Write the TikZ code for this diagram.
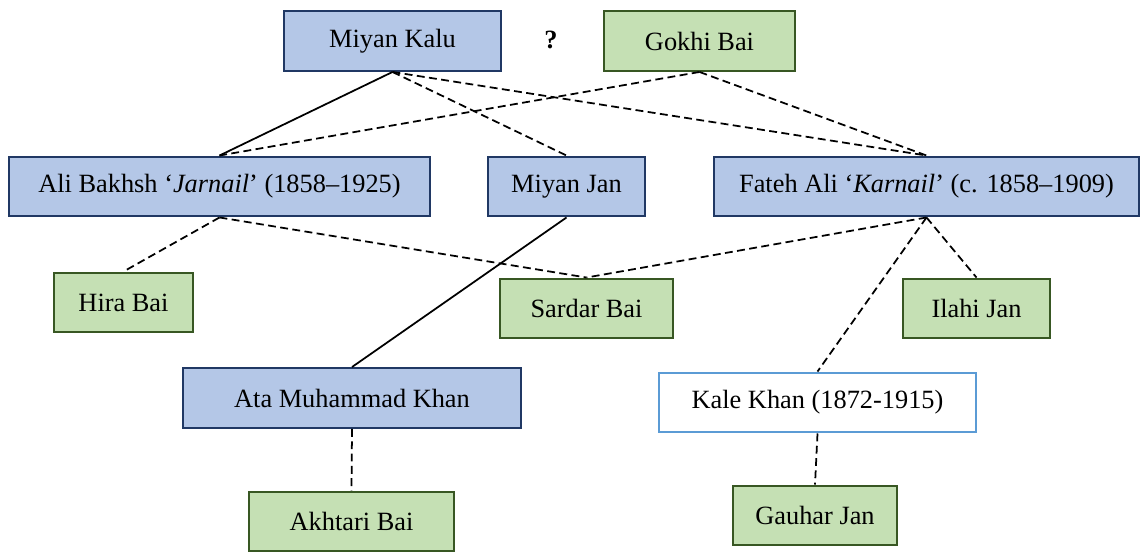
\documentclass[tikz,border=0pt]{standalone}
\usepackage{fontspec}
\setmainfont{Liberation Serif}
\usepackage{xcolor}
\usetikzlibrary{positioning}

\definecolor{bluefill}{HTML}{B4C7E7}
\definecolor{blueline}{HTML}{203864}
\definecolor{greenfill}{HTML}{C5E0B4}
\definecolor{greenline}{HTML}{385723}
\definecolor{lightline}{HTML}{5B9BD5}

\begin{document}
\begin{tikzpicture}[x=0.02cm, y=-0.02cm,
		every node/.style={draw, rectangle, inner sep=2pt, font=\fontsize{15}{18}\selectfont, minimum height=1.19cm},
		male/.style={fill=bluefill, draw=blueline, line width=1.4pt},
		female/.style={fill=greenfill, draw=greenline, line width=1.4pt},
		other/.style={fill=white, draw=lightline, line width=1.4pt},
		rel/.style={line width=1pt},
		link/.style={line width=1pt, dash pattern=on 4.5pt off 2.5pt}]
		\useasboundingbox (0,0) rectangle (1141,551);
		
		% Nodes
		\node[male, minimum width=4.34cm] (kalu) at (392.5,41) {Miyan Kalu};
		\node[draw=none, minimum height=0pt] (q) at (551,40) {\textbf{?}};
		\node[female, minimum width=3.82cm] (gokhi) at (699.5,41) {Gokhi Bai};
		\node[male, minimum width=8.42cm] (ali) at (219.5,186.5) {Ali Bakhsh `\textit{Jarnail}' (1858--1925)};
		\node[male, minimum width=3.14cm] (mjan) at (566.5,186.5) {Miyan Jan};
		\node[male, minimum width=8.5cm] (fateh) at (926.5,186.5) {Fateh Ali `\textit{Karnail}' (c. 1858--1909)};
		\node[female, minimum width=2.78cm] (hira) at (123.5,302.5) {Hira Bai};
		\node[female, minimum width=3.46cm] (sardar) at (586.5,308.5) {Sardar Bai};
		\node[female, minimum width=2.94cm] (ilahi) at (976.5,308.5) {Ilahi Jan};
		\node[male, minimum width=6.76cm] (ata) at (352,398) {Ata Muhammad Khan};
		\node[other, minimum width=6.34cm] (kale) at (817.5,402.5) {Kale Khan (1872-1915)};
		\node[female, minimum width=4.1cm] (akhtari) at (351.5,521.5) {Akhtari Bai};
		\node[female, minimum width=3.28cm] (gauhar) at (815,515.5) {Gauhar Jan};
		
		% Edges
		\draw[rel] (kalu.south) -- (ali.north);
		\draw[link] (kalu.south) -- (mjan.north);
		\draw[link] (kalu.south) -- (fateh.north);
		\draw[link] (gokhi.south) -- (ali.north);
		\draw[link] (gokhi.south) -- (fateh.north);
		\draw[link] (ali.south) -- (hira.north);
		\draw[link] (ali.south) -- (sardar.north);
		\draw[link] (fateh.south) -- (sardar.north);
		\draw[link] (fateh.south) -- (ilahi.north);
		\draw[link] (fateh.south) -- (kale.north);
		\draw[rel] (mjan.south) -- (ata.north);
		\draw[link] (ata.south) -- (akhtari.north);
		\draw[link] (kale.south) -- (gauhar.north);
	\end{tikzpicture}
\end{document}
